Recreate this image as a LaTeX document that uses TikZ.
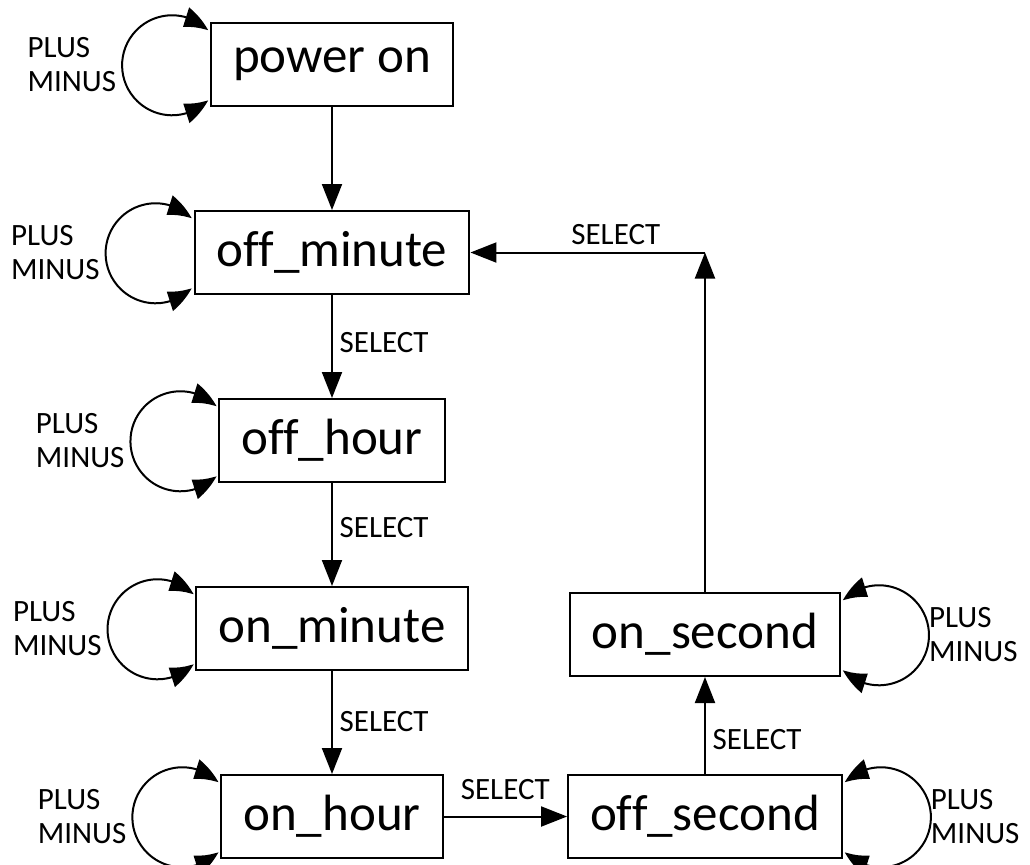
\documentclass[tikz,border=0pt]{standalone}
\usepackage{fontspec}
\setmainfont{Carlito}[Ligatures=NoCommon]
\usetikzlibrary{arrows.meta,bending,positioning}
\tikzstyle{stbox} = [rectangle, draw, line width=1pt, inner xsep=11pt,
    minimum height=41.5pt, font=\fontsize{25.5}{30}\selectfont]
\tikzstyle{pm} = [align=left, inner sep=0pt, font=\fontsize{15.5}{17}\selectfont]
\tikzstyle{selfloop} = [{Triangle[length=13pt,width=10pt,bend]}-{Triangle[length=13pt,width=10pt,bend]}]

\begin{document}
\begin{tikzpicture}[->,>={Triangle[length=13pt,width=10pt]},auto,node distance=94pt,
                    line width=1pt,
                    font=\fontsize{15.5}{19}\selectfont]
  \useasboundingbox (0,0) rectangle (515pt,-432pt);
  \node[stbox] at (166pt,-32.25pt) (pwr) {power on};
  \node[stbox,below of=pwr] (offmin) {off\_minute};
  \node[stbox,below of=offmin] (offhr) {off\_hour};
  \node[stbox,below of=offhr] (onmin) {on\_minute};
  \node[stbox,below of=onmin] (onhr) {on\_hour};
  \node[stbox,right of=onhr,node distance=186.5pt] (offsec) {off\_second};
  \node[stbox,above of=offsec,node distance=91pt] (onsec) {on\_second};
  \coordinate (turn) at (onsec.north |- offmin.east);

  % PLUS / MINUS labels
  \node[pm,left=46.5pt of pwr] (pwrkeys) {PLUS\\MINUS};
  \node[pm,left=46.5pt of offmin] (offminkeys) {PLUS\\MINUS};
  \node[pm,left=46.5pt of offhr] (offhrkeys) {PLUS\\MINUS};
  \node[pm,left=46.5pt of onmin] (onminkeys) {PLUS\\MINUS};
  \node[pm,left=46.5pt of onhr] (onhrkeys) {PLUS\\MINUS};
  \node[pm,right=43.5pt of onsec] (onseckeys) {PLUS\\MINUS};
  \node[pm,right=43.5pt of offsec] (offseckeys) {PLUS\\MINUS};

  % self loops
  \draw[selfloop] ([shift={(-1pt,3.5pt)}]pwr.south west) arc[start angle=-44,end angle=-316,radius=25pt];
  \draw[selfloop] ([shift={(-1pt,3.5pt)}]offmin.south west) arc[start angle=-44,end angle=-316,radius=25pt];
  \draw[selfloop] ([shift={(-1pt,3.5pt)}]offhr.south west) arc[start angle=-44,end angle=-316,radius=25pt];
  \draw[selfloop] ([shift={(-1pt,3.5pt)}]onmin.south west) arc[start angle=-44,end angle=-316,radius=25pt];
  \draw[selfloop] ([shift={(-1pt,3.5pt)}]onhr.south west) arc[start angle=-44,end angle=-316,radius=25pt];
  \draw[selfloop] ([shift={(1pt,3.5pt)}]onsec.south east) arc[start angle=-136,end angle=136,radius=25pt];
  \draw[selfloop] ([shift={(1pt,3.5pt)}]offsec.south east) arc[start angle=-136,end angle=136,radius=25pt];

  \path (pwr) edge (offmin)
        (offmin) edge node[pos=0.46] {SELECT} (offhr)
        (offhr) edge node[pos=0.43] {SELECT} (onmin)
        (onmin) edge node[pos=0.49] {SELECT} (onhr)
        (onhr) edge node[yshift=4.5pt] {SELECT} (offsec)
        (offsec) edge node[swap,pos=0.36] {SELECT} (onsec);
  \draw (onsec) -- (turn);
  \draw (turn) -- node[swap,pos=0.38] {SELECT} (offmin.east);
\end{tikzpicture}
\end{document}
